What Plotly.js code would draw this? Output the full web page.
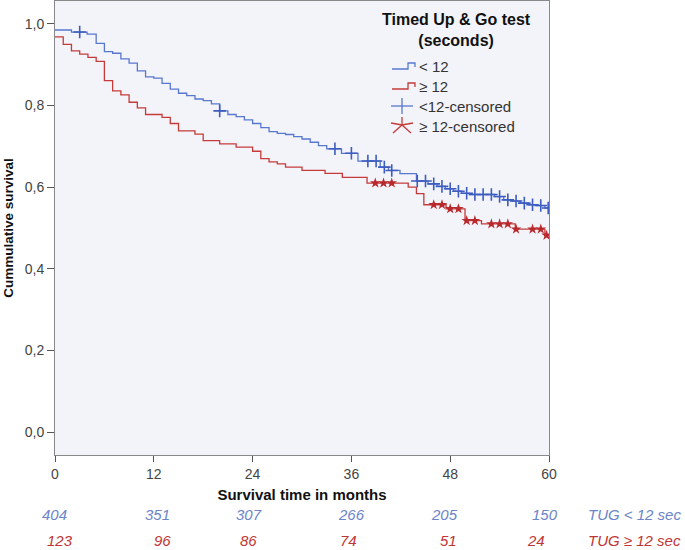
<!DOCTYPE html>
<html>
<head>
<meta charset="utf-8">
<script src="https://cdn.plot.ly/plotly-3.0.1.min.js"></script>
<style>html,body{margin:0;padding:0;background:#fff;}#chart{width:685px;height:550px;}</style>
</head>
<body>
<div id="chart"></div>
<script>
// ---- Data (Kaplan-Meier steps) ----
var blueTimes = [0, 2, 3.9, 5, 6, 7, 8, 9, 10, 11, 12, 13, 14, 15, 16, 17, 18, 19, 20, 21, 22, 23, 24, 25, 26, 27, 28, 29, 30, 31, 32, 33, 34.8, 36.8, 39.5, 40.5, 41.9, 43.9, 45.3, 46.4, 47.4, 48.4, 49.4, 50.4, 53.4, 54.5, 55.5, 56.5, 57.5, 58.5, 59.5, 60];
var blueSurv  = [0.985, 0.980, 0.975, 0.952, 0.932, 0.928, 0.914, 0.904, 0.885, 0.870, 0.867, 0.854, 0.840, 0.830, 0.824, 0.816, 0.812, 0.804, 0.787, 0.778, 0.773, 0.765, 0.756, 0.746, 0.736, 0.732, 0.729, 0.724, 0.718, 0.710, 0.702, 0.694, 0.683, 0.664, 0.649, 0.641, 0.633, 0.615, 0.608, 0.602, 0.596, 0.590, 0.585, 0.582, 0.577, 0.569, 0.566, 0.561, 0.557, 0.555, 0.549, 0.549];
var blueCensored = [3, 20, 34, 36, 38, 39, 40, 40.9, 44, 45, 46, 47, 48, 49, 50, 51, 52, 53, 54, 55, 56, 57, 58, 59, 59.9];

var redTimes = [0, 1, 2, 3, 4, 5, 6, 7, 8, 9, 10, 11, 13, 14, 15, 17, 18, 20, 22, 24, 25, 26, 27, 28, 30, 32.8, 34.9, 37.9, 42.9, 43.9, 44.8, 47.5, 49.8, 51.8, 55.9, 59.5, 60];
var redSurv  = [0.968, 0.950, 0.934, 0.926, 0.918, 0.908, 0.861, 0.836, 0.826, 0.808, 0.794, 0.778, 0.771, 0.756, 0.738, 0.730, 0.714, 0.706, 0.698, 0.688, 0.670, 0.662, 0.657, 0.649, 0.641, 0.634, 0.624, 0.610, 0.600, 0.584, 0.557, 0.547, 0.518, 0.510, 0.497, 0.482, 0.482];
var redCensored = [38.9, 39.9, 40.9, 46, 47, 48, 49, 50, 51, 53, 54, 55, 56, 58, 59, 59.7];

var xTicks = [0, 12, 24, 36, 48, 60];
var yTicks = [0, 0.2, 0.4, 0.6, 0.8, 1.0];
var riskTimes = [0, 12, 24, 36, 48, 60];
var riskBlue = [404, 351, 307, 266, 205, 150];
var riskRed  = [123, 96, 86, 74, 51, 24];
var riskBlueShift = [-1, 4, -4, 0, -6, -4];
var riskRedShift  = [5, 9, -4, -3, -2, -13];

var legendTitle = 'Timed Up &amp; Go test<br>(seconds)';
var legendLabels = ['&lt; 12', '\u2265 12', '&lt;12-censored', '\u2265 12-censored'];
var riskLabels = ['TUG &lt; 12 sec', 'TUG \u2265 12 sec'];

// ---- helpers ----
function survAt(times, surv, t) {
  var v = surv[0];
  for (var i = 0; i < times.length; i++) { if (times[i] <= t) v = surv[i]; }
  return v;
}
var BLUE = '#5877cf', BLUE_M = '#3d5cbf', RED = '#c63a3a', RED_M = '#b8282c';
var BLUE_T = '#6c84c9', RED_T = '#bf3535';
var FONT = 'Liberation Sans, Arial, sans-serif';
var NARROW = 'Liberation Sans Narrow, Liberation Sans, Arial, sans-serif';

// plot area pixels: left 55, right 549, top 1, bottom 455
var L = 55, R = 549, T = 1, B = 455;
function px(x) { return (x - L) / (R - L); }
function py(y) { return (B - y) / (B - T); }

var traces = [
  {x: blueTimes, y: blueSurv, mode: 'lines', line: {shape: 'hv', color: BLUE, width: 1.3}, name: '< 12', showlegend: false, hoverinfo: 'x+y'},
  {x: redTimes, y: redSurv, mode: 'lines', line: {shape: 'hv', color: RED, width: 1.3}, name: '\u2265 12', showlegend: false, hoverinfo: 'x+y'},
  {x: blueCensored, y: blueCensored.map(function(t){return survAt(blueTimes, blueSurv, t);}), mode: 'markers',
   marker: {symbol: 'cross-thin-open', size: 9, color: BLUE_M, line: {color: BLUE_M, width: 1.6}}, name: '<12-censored', showlegend: false},
  {x: redCensored, y: redCensored.map(function(t){return survAt(redTimes, redSurv, t);}), mode: 'markers',
   marker: {symbol: 'star', size: 8, color: RED_M, line: {width: 0}}, name: '\u2265 12-censored', showlegend: false}
];

var annotations = [];
var shapes = [];
// risk table
riskTimes.forEach(function(t, i) {
  annotations.push({x: t, y: py(514), xref: 'x', yref: 'paper', text: '<i>' + riskBlue[i] + '</i>', showarrow: false,
    xanchor: 'center', yanchor: 'middle', xshift: riskBlueShift[i], font: {family: NARROW, size: 15, color: BLUE_T}});
  annotations.push({x: t, y: py(540), xref: 'x', yref: 'paper', text: '<i>' + riskRed[i] + '</i>', showarrow: false,
    xanchor: 'center', yanchor: 'middle', xshift: riskRedShift[i], font: {family: NARROW, size: 15, color: RED_T}});
});
annotations.push({x: px(586), y: py(514), xref: 'paper', yref: 'paper', text: '<i>' + riskLabels[0] + '</i>', showarrow: false,
  xanchor: 'left', yanchor: 'middle', font: {family: NARROW, size: 15, color: BLUE_T}});
annotations.push({x: px(586), y: py(540), xref: 'paper', yref: 'paper', text: '<i>' + riskLabels[1] + '</i>', showarrow: false,
  xanchor: 'left', yanchor: 'middle', font: {family: NARROW, size: 15, color: RED_T}});

// legend
annotations.push({x: px(456), y: py(30), xref: 'paper', yref: 'paper', text: '<b>' + legendTitle + '</b>', showarrow: false,
  xanchor: 'center', yanchor: 'middle', align: 'center', font: {family: FONT, size: 16, color: '#111'}});
var legY = [66, 86, 106, 126];
legendLabels.forEach(function(lab, i) {
  annotations.push({x: px(417), y: py(legY[i]), xref: 'paper', yref: 'paper', text: lab, showarrow: false,
    xanchor: 'left', yanchor: 'middle', font: {family: FONT, size: 15, color: '#333'}});
});
function pathOf(pts) {
  return pts.map(function(p, i){ return (i ? 'L' : 'M') + px(p[0]).toFixed(4) + ',' + py(p[1]).toFixed(4); }).join(' ');
}
function stepIcon(yc, color) {
  shapes.push({type: 'path', xref: 'paper', yref: 'paper', line: {color: color, width: 1.3},
    path: pathOf([[392, yc + 3], [408, yc + 3], [408, yc - 3], [415, yc - 3], [415, yc + 1]])});
}
stepIcon(legY[0], BLUE);
stepIcon(legY[1], RED);
// plus icon
shapes.push({type: 'path', xref: 'paper', yref: 'paper', line: {color: BLUE, width: 1.3}, path: pathOf([[391, legY[2]], [413, legY[2]]])});
shapes.push({type: 'path', xref: 'paper', yref: 'paper', line: {color: BLUE, width: 1.3}, path: pathOf([[402, legY[2] - 8], [402, legY[2] + 8]])});
// star icon
var sc = [402, legY[3] - 1];
[[402, legY[3] - 9], [391, legY[3] - 3], [413, legY[3] - 3], [393, legY[3] + 7], [411, legY[3] + 7]].forEach(function(p) {
  shapes.push({type: 'path', xref: 'paper', yref: 'paper', line: {color: RED, width: 1.3}, path: pathOf([sc, p])});
});

var layout = {
  width: 685, height: 550,
  margin: {l: L, r: 685 - R, t: T, b: 550 - B, pad: 0},
  paper_bgcolor: '#ffffff', plot_bgcolor: '#f3f4f9',
  font: {family: FONT, size: 13, color: '#444'},
  separators: ',.',
  xaxis: {
    range: [0, 60], tickvals: xTicks, ticktext: xTicks.map(String), ticks: 'outside', ticklen: 6, tickwidth: 1, tickcolor: '#555',
    showline: true, linecolor: '#888', linewidth: 1, mirror: true, showgrid: false, zeroline: false,
    tickfont: {family: NARROW, size: 14, color: '#444'},
    title: {text: '<b>Survival time in months</b>', font: {family: FONT, size: 15, color: '#111'}, standoff: 8},
    automargin: false, fixedrange: true
  },
  yaxis: {
    range: [-0.056, 1.056], tickvals: yTicks, tickformat: '.1f', ticks: 'outside', ticklen: 7, tickwidth: 1, tickcolor: '#555',
    showline: true, linecolor: '#888', linewidth: 1, mirror: true, showgrid: false, zeroline: false,
    tickfont: {family: NARROW, size: 14, color: '#444'},
    title: {text: '<b>Cummulative survival</b>', font: {family: FONT, size: 13.5, color: '#111'}, standoff: 8},
    automargin: false, fixedrange: true
  },
  showlegend: false,
  annotations: annotations,
  shapes: shapes
};

Plotly.newPlot('chart', traces, layout, {displayModeBar: false, staticPlot: true});
</script>
</body>
</html>
